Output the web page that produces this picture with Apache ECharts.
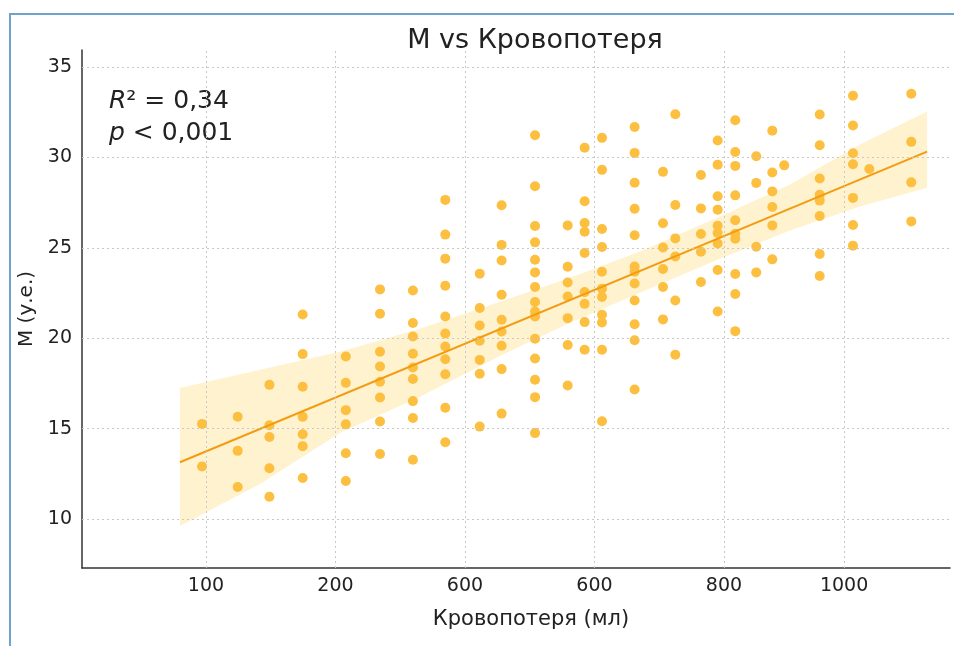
<!DOCTYPE html>
<html>
<head>
<meta charset="utf-8">
<title>M vs Кровопотеря</title>
<script src="https://cdn.jsdelivr.net/npm/echarts@6.0.0/dist/echarts.min.js"></script>
<style>
    html, body { margin: 0; padding: 0; background: #fff; }
    #chart { width: 954px; height: 646px; }
</style>
</head>
<body>
<div id="chart"></div>
<script>
// x positions of the point columns (axis units, first tick = 100)
var colX = [97, 124.5, 149, 174.7, 208, 234.4, 259.8, 284.8, 311.4, 328.3, 354.1, 379.3, 392.4, 405.8,
    431, 452.9, 462.4, 482.2, 495.1, 508.7, 524.9, 537.3, 546.5, 573.9, 599.6, 612.2, 644.6];

// M values in each column
var colM = [
    [15.26, 12.9],
    [15.66, 13.77, 11.77],
    [17.42, 15.19, 14.54, 12.81, 11.23],
    [21.31, 19.12, 17.31, 15.65, 14.69, 14.03, 12.27],
    [18.99, 17.53, 16.02, 15.24, 13.64, 12.1],
    [22.7, 21.35, 19.25, 18.43, 17.59, 16.72, 15.39, 13.6],
    [22.64, 20.84, 20.09, 19.14, 18.38, 17.74, 16.52, 15.59, 13.28],
    [27.65, 25.73, 24.4, 22.9, 21.2, 20.26, 19.54, 18.84, 18.01, 16.15, 14.25],
    [23.57, 21.67, 20.7, 19.86, 18.8, 18.03, 15.11],
    [27.35, 25.16, 24.3, 22.4, 21.02, 20.37, 19.58, 18.29, 15.83],
    [31.22, 28.4, 26.21, 25.3, 24.34, 23.64, 22.83, 22.0, 21.48, 21.2, 19.97, 18.88, 17.7, 16.74, 14.75],
    [26.24, 23.95, 23.08, 22.31, 21.11, 19.62, 17.38],
    [30.53, 27.57, 26.37, 25.89, 24.71, 22.55, 21.9, 20.89, 19.36],
    [31.08, 29.31, 26.04, 25.04, 23.68, 22.74, 22.28, 21.3, 20.87, 19.36, 15.41],
    [31.68, 30.25, 28.6, 27.16, 25.69, 23.97, 23.68, 23.03, 22.09, 20.77, 19.89, 17.16],
    [29.2, 26.36, 25.02, 23.83, 22.83, 21.04],
    [32.39, 27.37, 25.52, 24.52, 22.09, 19.08],
    [29.03, 27.18, 25.76, 24.78, 23.11],
    [30.93, 29.6, 27.85, 27.11, 26.22, 25.82, 25.24, 23.77, 21.48],
    [32.05, 30.3, 29.53, 27.9, 26.52, 25.78, 25.5, 23.55, 22.44, 20.39],
    [30.06, 28.59, 25.06, 23.64],
    [31.48, 29.16, 28.12, 27.26, 26.24, 24.36],
    [29.56],
    [32.37, 30.67, 28.83, 27.94, 27.61, 26.76, 24.66, 23.44],
    [33.41, 31.76, 30.23, 29.62, 27.76, 26.26, 25.12],
    [29.36],
    [33.52, 30.86, 28.62, 26.46]
];

// fitted line end points and confidence band
var fitX = [79.9, 656.8];
var fitM = [13.14, 30.32];
var bandX = [79.9, 141.7, 203.5, 265.3, 327, 381.1, 435.1, 496.9, 551, 605, 656.8];
var bandUpper = [17.25, 18.25, 19.25, 20.52, 22.02, 23.35, 24.79, 26.73, 28.5, 30.71, 32.54];
var bandLower = [9.61, 11.94, 14.76, 16.76, 19.02, 20.85, 22.52, 24.4, 25.95, 27.28, 28.32];

// ticks as printed on the picture
var xTickPos = [100, 200, 300, 400, 500, 592.7];
var xTickLabels = ['100', '200', '600', '600', '800', '1000'];
var yTickPos = [10, 15, 20, 25, 30, 35];

var points = [];
colX.forEach(function(x, i) {
    colM[i].forEach(function(m) { points.push([x, m]); });
});

var gridLines = [];
xTickPos.forEach(function(v) { gridLines.push({ xAxis: v }); });
yTickPos.forEach(function(v) { gridLines.push({ yAxis: v }); });

var font = 'DejaVu Sans';
var chart = echarts.init(document.getElementById('chart'));

chart.setOption({
    animation: false,
    textStyle: { fontFamily: font, color: '#222' },
    title: {
        text: 'M vs Кровопотеря',
        left: 530,
        top: 22,
        textAlign: 'center',
        textStyle: { fontFamily: font, fontSize: 27, fontWeight: 'normal', color: '#222' }
    },
    grid: { left: 82, right: 4, top: 50, bottom: 78 },
    xAxis: {
        type: 'value',
        min: 4.3,
        max: 674.5,
        name: 'Кровопотеря (мл)',
        nameLocation: 'middle',
        nameGap: 41,
        nameTextStyle: { fontFamily: font, fontSize: 21, color: '#222', padding: [0, 0, 0, 30] },
        axisLine: { show: true, lineStyle: { color: '#333', width: 1.5 } },
        axisTick: { show: false },
        splitLine: { show: false },
        axisLabel: {
            customValues: xTickPos,
            margin: 9,
            fontSize: 19,
            color: '#222',
            fontFamily: font,
            formatter: function(v) {
                var i = xTickPos.indexOf(v);
                return i >= 0 ? xTickLabels[i] : '';
            }
        }
    },
    yAxis: {
        type: 'value',
        min: 7.29,
        max: 35.94,
        name: 'M (у.е.)',
        nameLocation: 'middle',
        nameGap: 44,
        nameTextStyle: { fontFamily: font, fontSize: 20, color: '#222' },
        axisLine: { show: true, lineStyle: { color: '#333', width: 1.5 } },
        axisTick: { show: false },
        splitLine: { show: false },
        axisLabel: {
            customValues: yTickPos,
            margin: 10,
            fontSize: 19,
            color: '#222',
            fontFamily: font
        }
    },
    graphic: [
        {
            type: 'rect',
            silent: true,
            shape: { x: 10, y: 14, width: 1000, height: 700 },
            style: { fill: 'none', stroke: '#6fa3c8', lineWidth: 2 }
        },
        {
            type: 'text',
            left: 109,
            top: 85,
            style: {
                text: '{i|R}² = 0,34\n{i|p} < 0,001',
                fontFamily: font,
                fontSize: 25,
                lineHeight: 32,
                fill: '#222',
                rich: { i: { fontStyle: 'italic', fontFamily: font, fontSize: 25, lineHeight: 32 } }
            }
        }
    ],
    series: [
        {
            type: 'custom',
            silent: true,
            z: 1,
            data: [[bandX[0], bandLower[0]]],
            renderItem: function(params, api) {
                var pts = [];
                bandX.forEach(function(x, i) { pts.push(api.coord([x, bandUpper[i]])); });
                for (var i = bandX.length - 1; i >= 0; i--) pts.push(api.coord([bandX[i], bandLower[i]]));
                return { type: 'polygon', shape: { points: pts }, style: { fill: '#fef2cf' } };
            }
        },
        {
            type: 'line',
            silent: true,
            z: 2,
            data: [],
            markLine: {
                silent: true,
                symbol: 'none',
                label: { show: false },
                lineStyle: { color: '#c8c8c8', type: [2, 3], width: 1 },
                data: gridLines
            }
        },
        {
            type: 'scatter',
            z: 3,
            symbolSize: 10,
            itemStyle: { color: '#fdbf40', opacity: 1 },
            data: points
        },
        {
            type: 'line',
            z: 4,
            showSymbol: false,
            lineStyle: { color: '#f39c12', width: 2 },
            data: fitX.map(function(x, i) { return [x, fitM[i]]; })
        }
    ]
});
</script>
</body>
</html>
